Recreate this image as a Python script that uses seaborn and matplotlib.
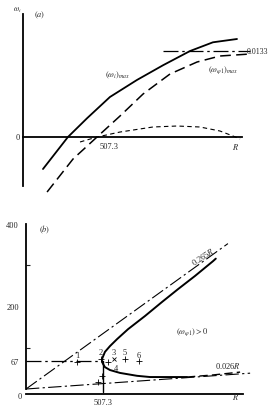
import numpy as np
import matplotlib
matplotlib.use('Agg')
import matplotlib.pyplot as plt
import seaborn as sns

# %% data

# (a) growth rates against R
r_wi = [137, 308, 439, 596, 781, 960, 1145, 1302, 1467]
wi_max = [-0.00495, 0.0, 0.00290, 0.00619, 0.00882, 0.01110, 0.01330, 0.01465, 0.01516]

r_wphi = [165, 343, 507.3, 665, 823, 1008, 1193, 1350, 1556]
wphi_max = [-0.00851, -0.00340, 0.0, 0.00325, 0.00665, 0.00975, 0.01160, 0.01253, 0.01284]

r_small = [391, 507.3, 665, 891, 1056, 1213, 1350, 1440, 1488]
w_small = [-0.00077, 0.0, 0.00077, 0.00155, 0.00170, 0.00155, 0.00093, 0.00015, -0.00031]

w_limit = 0.0133
r_limit = [960, 1556]

# (b) neutral curve in the (R, omega) plane
r_neutral = [1250, 1232, 1113, 1001, 896, 784, 672, 600, 553, 520, 501, 500,
             507, 520, 553, 619, 731, 817, 883, 1060]
w_neutral = [316, 310, 274, 242, 211, 177, 145, 121, 104, 90, 73, 67,
             61, 53, 46, 39, 32, 29, 29, 29]
r_tail = [1060, 1230, 1410]
w_tail = [29, 34, 41]

r_crit = 507.3
w_crit = 67
slope_up = 0.265
slope_low = 0.026
r_up = [0, 1330]
r_low = [0, 1476]

pt_r = [336, 494, 652, 744, 540, 500, 474]
pt_w = [65, 73, 73, 68, 65, 31, 17]
cross_r = [580]
cross_w = [73]
num_labels = ['1', '2', '3', '5', '6', '4']
num_r = [336, 494, 580, 652, 744, 593]
num_w = [82, 90, 90, 90, 82, 51]

# %%

sns.set_style('white')
plt.rcParams['font.family'] = ['Liberation Serif', 'DejaVu Serif']
plt.rcParams['mathtext.fontset'] = 'stix'

W, H = 268, 406
fig = plt.figure(figsize=(W / 100, H / 100), dpi=100)


def box(l, t, r, b):
    return [l / W, 1 - b / H, (r - l) / W, (b - t) / H]


fs = 6
k = 'black'

# %% panel (a)

ax = fig.add_axes(box(23, 8, 258, 196))
ax.set_facecolor('none')
sns.lineplot(x=r_wi, y=wi_max, ax=ax, color=k, lw=1.3, sort=False, estimator=None)
sns.lineplot(x=r_wphi, y=wphi_max, ax=ax, color=k, lw=1.1, sort=False, estimator=None
             ).lines[-1].set_dashes((7, 3.5))
sns.lineplot(x=r_small, y=w_small, ax=ax, color=k, lw=0.8, sort=False, estimator=None
             ).lines[-1].set_dashes((4, 3))
sns.lineplot(x=r_limit, y=[w_limit, w_limit], ax=ax, color=k, lw=0.9,
             estimator=None).lines[-1].set_dashes((12, 3, 2, 3))

ax.set_xlim(0, 1611)
ax.set_ylim(-0.00897, 0.02011)
for s in ['top', 'right']:
    ax.spines[s].set_visible(False)
ax.spines['left'].set_bounds(-0.00758, 0.01903)
ax.spines['bottom'].set_position(('data', 0))
ax.spines['bottom'].set_bounds(0, 1501)
for s in ['left', 'bottom']:
    ax.spines[s].set_linewidth(1.3)
    ax.spines[s].set_color(k)
ax.set_xticks([])
ax.set_yticks([])

ax.text(-20, 0, '0', fontsize=fs, ha='right', va='center')
ax.text(528, -0.00139, '507.3', fontsize=fs, ha='left', va='center')
ax.text(1460, -0.00139, '$R$', fontsize=fs, ha='center', va='center')
ax.text(1535, w_limit, '0.0133', fontsize=fs - 0.3, ha='left', va='center', clip_on=False)
ax.text(-41, 0.0197, r'$\omega_i$', fontsize=fs - 0.5, ha='center', va='center')
ax.text(117, 0.0190, '$(a)$', fontsize=fs, ha='center', va='center')
ax.text(651, 0.00975, r'$(\omega_i)_{max}$', fontsize=fs, ha='center', va='center')
ax.text(1371, 0.0105, r'$(\omega_{\varphi 1})_{max}$', fontsize=fs, ha='center', va='center')

# %% panel (b)

bx = fig.add_axes(box(26, 215, 258, 395))
bx.set_facecolor('none')
sns.lineplot(x=r_up, y=[slope_up * r for r in r_up], ax=bx, color=k, lw=0.8,
             estimator=None).lines[-1].set_dashes((12, 3, 2, 3))
sns.lineplot(x=r_low, y=[slope_low * r for r in r_low], ax=bx, color=k, lw=0.8,
             estimator=None).lines[-1].set_dashes((12, 3, 2, 3))
sns.lineplot(x=[0, r_crit], y=[w_crit, w_crit], ax=bx, color=k, lw=0.9,
             estimator=None).lines[-1].set_dashes((12, 3, 2, 3))
sns.lineplot(x=[r_crit, r_crit], y=[w_crit, -8], ax=bx, color=k, lw=1.0, estimator=None)
sns.lineplot(x=r_neutral, y=w_neutral, ax=bx, color=k, lw=1.4, sort=False, estimator=None)
sns.lineplot(x=r_tail, y=w_tail, ax=bx, color=k, lw=1.0, sort=False, estimator=None
             ).lines[-1].set_dashes((6, 3))

bx.plot(pt_r, pt_w, '+', color=k, ms=4, mew=0.6)
bx.plot(cross_r, cross_w, 'x', color=k, ms=3, mew=0.6)
for lab, r, w in zip(num_labels, num_r, num_w):
    bx.text(r, w, lab, fontsize=fs, ha='center', va='center')

bx.set_xlim(0, 1528)
bx.set_ylim(-12.1, 424.2)
for s in ['top', 'right']:
    bx.spines[s].set_visible(False)
bx.spines['left'].set_bounds(0, 400)
bx.spines['bottom'].set_bounds(0, 1430)
for s in ['left', 'bottom']:
    bx.spines[s].set_linewidth(1.3)
    bx.spines[s].set_color(k)

bx.set_yticks([67, 200, 400])
bx.set_yticklabels(['67', '200', '400'])
bx.set_yticks([100, 300], minor=True)
bx.tick_params(axis='y', which='both', direction='in', length=3, width=0.8,
               labelsize=fs, pad=5, left=True)
bx.tick_params(axis='y', which='major', length=0)
bx.set_xticks([r_crit])
bx.set_xticklabels(['507.3'])
bx.tick_params(axis='x', length=0, labelsize=fs, pad=3)

bx.text(-25, -17, '0', fontsize=fs, ha='right', va='center')
bx.text(1383, -17, '$R$', fontsize=fs, ha='center', va='center')
bx.text(125, 388, '$(b)$', fontsize=fs, ha='center', va='center')
bx.text(1094, 141, r'$(\omega_{\varphi 1}) > 0$', fontsize=fs, ha='center', va='center')
bx.text(1166, 322, '0.265$R$', fontsize=fs, ha='center', va='center', rotation=33)
bx.text(1331, 58, '0.026$R$', fontsize=fs, ha='center', va='center')

plt.savefig('out.png', dpi=100)
